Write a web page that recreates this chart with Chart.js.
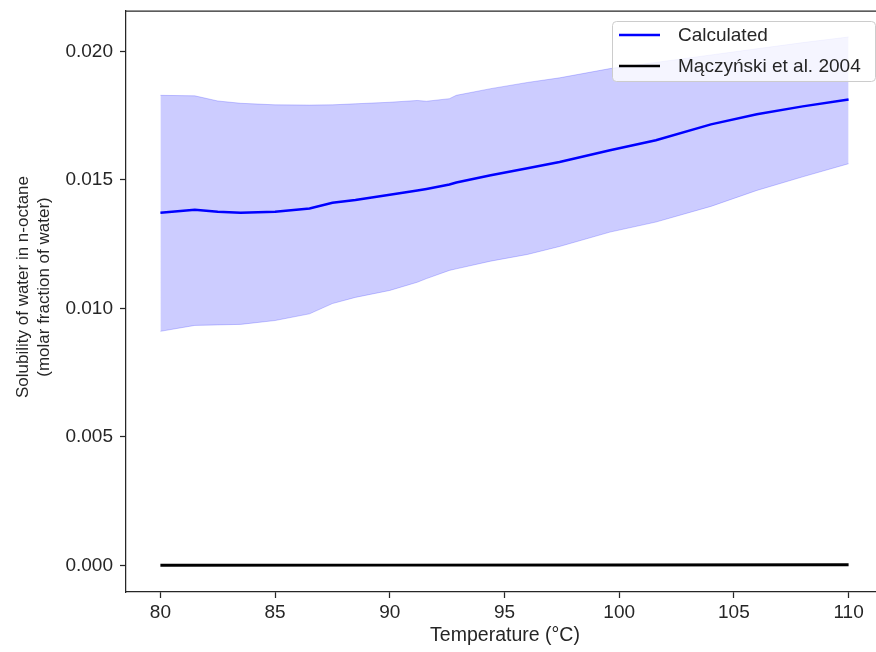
<!DOCTYPE html>
<html>
<head>
<meta charset="utf-8">
<script src="https://cdn.jsdelivr.net/npm/chart.js@4.4.0/dist/chart.umd.min.js"></script>
<style>
    html, body { margin: 0; padding: 0; background: #ffffff; overflow: hidden; }
    #box { width: 876px; height: 652px; overflow: hidden; }
</style>
</head>
<body>
<div id="box"><canvas id="ctx" width="900" height="652"></canvas></div>
<script>
// temperature grid (°C) shared by the calculated curve and its band
const temperature = [80, 81.5, 82.5, 83.5, 85, 86.5, 87.5, 88.5, 90, 91.2, 91.6,
    92.6, 92.9, 94.4, 96, 97.4, 99.6, 101.6, 104, 106, 108, 110];
const calculated = [0.01372, 0.01384, 0.01376, 0.01372, 0.01376, 0.01389, 0.01411,
    0.01422, 0.01442, 0.01459, 0.01465, 0.01482, 0.01490, 0.01518, 0.01545, 0.01570,
    0.01615, 0.01654, 0.01716, 0.01755, 0.01786, 0.01813];
const upperBound = [0.01829, 0.01827, 0.01807, 0.01798, 0.01792, 0.01791, 0.01792,
    0.01796, 0.01802, 0.01809, 0.01806, 0.01816, 0.01829, 0.01855, 0.01879, 0.01897,
    0.01933, 0.01957, 0.01986, 0.02010, 0.02034, 0.02056];
const lowerBound = [0.00911, 0.00934, 0.00936, 0.00938, 0.00953, 0.00979, 0.01019,
    0.01043, 0.01070, 0.01102, 0.01116, 0.01148, 0.01154, 0.01184, 0.01210, 0.01241,
    0.01297, 0.01336, 0.01397, 0.01459, 0.01512, 0.01563];

// literature points
const litTemperature = [80, 90, 100, 110];
const litSolubility = [0.00001, 0.000015, 0.00002, 0.00003];

const xTicks = [80, 85, 90, 95, 100, 105, 110];
const yTicks = [0, 0.005, 0.01, 0.015, 0.02];

const legendLabels = ["Calculated", "Mączyński et al. 2004"];
const xTitle = "Temperature (°C)";
const yTitle = ["Solubility of water in n-octane", "(molar fraction of water)"];

const ink = "#262626";
const font = "'Liberation Sans', Arial, sans-serif";

function pairs(xs, ys) {
    var out = [];
    for (var i = 0; i < xs.length; i++) {
        out.push({x: xs[i], y: ys[i]});
    }
    return out;
}

// spine on top, axis titles and the boxed legend
const decorations = {
    id: "decorations",
    afterDraw(chart) {
        var c = chart.ctx;
        var area = chart.chartArea;
        c.save();
        c.strokeStyle = ink;
        c.lineWidth = 1.25;
        c.beginPath();
        c.moveTo(area.left, area.top);
        c.lineTo(area.right, area.top);
        c.stroke();

        c.fillStyle = ink;
        c.textAlign = "center";
        c.textBaseline = "middle";
        c.font = "19.5px " + font;
        c.fillText(xTitle, 505, 636);

        c.save();
        c.translate(23, 287);
        c.rotate(-Math.PI / 2);
        c.font = "17px " + font;
        c.fillText(yTitle[0], 0, 0);
        c.fillText(yTitle[1], 0, 21);
        c.restore();

        // legend
        var lx = 612.5, ly = 21.5, lw = 263, lh = 60;
        c.beginPath();
        c.roundRect(lx, ly, lw, lh, 4);
        c.fillStyle = "rgba(255,255,255,0.8)";
        c.fill();
        c.strokeStyle = "#cccccc";
        c.lineWidth = 1;
        c.stroke();

        var colors = ["#0000ff", "#000000"];
        var rows = [35, 66];
        c.font = "19px " + font;
        c.textAlign = "left";
        for (var i = 0; i < legendLabels.length; i++) {
            c.strokeStyle = colors[i];
            c.lineWidth = 2.5;
            c.beginPath();
            c.moveTo(619, rows[i]);
            c.lineTo(660, rows[i]);
            c.stroke();
            c.fillStyle = ink;
            c.fillText(legendLabels[i], 678, rows[i] + 1);
        }
        c.restore();
    }
};

const band = "rgba(0,0,255,0.2)";

new Chart(document.getElementById("ctx"), {
    type: "line",
    data: {
        datasets: [{
            label: "lower",
            data: pairs(temperature, lowerBound),
            borderColor: band,
            borderWidth: 1,
            pointRadius: 0,
            fill: false
        }, {
            label: "upper",
            data: pairs(temperature, upperBound),
            borderColor: band,
            backgroundColor: band,
            borderWidth: 1,
            pointRadius: 0,
            fill: "-1"
        }, {
            label: legendLabels[0],
            data: pairs(temperature, calculated),
            borderColor: "#0000ff",
            borderWidth: 2.5,
            pointRadius: 0,
            fill: false
        }, {
            label: legendLabels[1],
            data: pairs(litTemperature, litSolubility),
            borderColor: "#000000",
            borderWidth: 2.8,
            pointRadius: 0,
            fill: false
        }]
    },
    options: {
        responsive: false,
        animation: false,
        devicePixelRatio: 1,
        layout: {padding: {left: 0, top: 11, right: 17, bottom: 0}},
        plugins: {
            legend: {display: false},
            tooltip: {enabled: false}
        },
        scales: {
            x: {
                type: "linear",
                min: 78.5,
                max: 111.5,
                afterBuildTicks: function (s) {
                    s.ticks = xTicks.map(function (v) { return {value: v}; });
                },
                afterFit: function (s) {
                    s.height = 60;
                    s.paddingLeft = 0;
                    s.paddingRight = 0;
                },
                border: {display: true, color: ink, width: 1.25},
                grid: {drawOnChartArea: false, drawTicks: true, tickLength: 6, color: ink, tickWidth: 1.25},
                ticks: {
                    color: ink,
                    font: {family: font, size: 19},
                    padding: 3,
                    maxRotation: 0,
                    callback: function (v) { return String(v); }
                }
            },
            y: {
                min: -0.00103,
                max: 0.02157,
                afterBuildTicks: function (s) {
                    s.ticks = yTicks.map(function (v) { return {value: v}; });
                },
                afterFit: function (s) {
                    s.width = 126;
                    s.paddingTop = 0;
                    s.paddingBottom = 0;
                },
                border: {display: true, color: ink, width: 1.25},
                grid: {drawOnChartArea: false, drawTicks: true, tickLength: 6, color: ink, tickWidth: 1.25},
                ticks: {
                    color: ink,
                    font: {family: font, size: 19},
                    padding: 7,
                    callback: function (v) { return v.toFixed(3); }
                }
            }
        }
    },
    plugins: [decorations]
});
</script>
</body>
</html>
